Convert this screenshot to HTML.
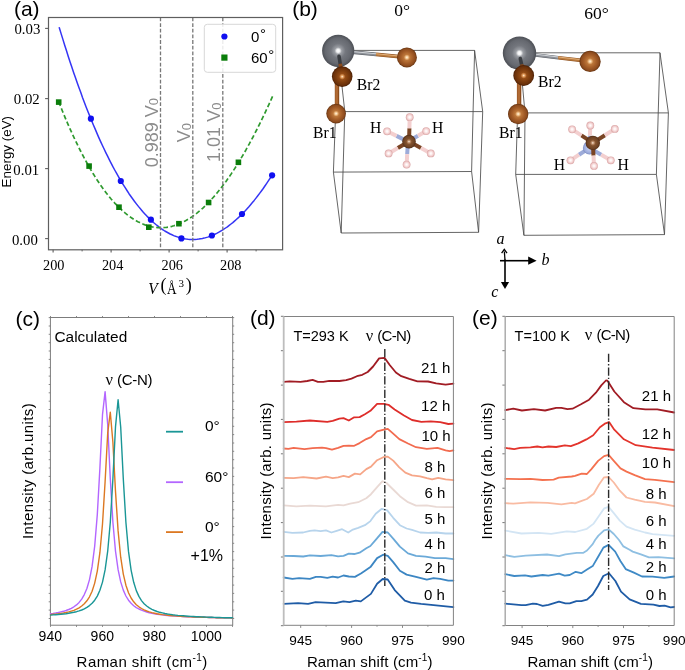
<!DOCTYPE html>
<html><head><meta charset="utf-8"><style>
html,body{margin:0;padding:0;background:#fff;}
svg{display:block;will-change:transform;}
</style></head><body>
<svg width="685" height="670" viewBox="0 0 685 670">
<rect width="685" height="670" fill="#fff"/>
<text x="13.9" y="16.1" font-size="21" font-family='"Liberation Sans", sans-serif' text-anchor="start" fill="#000" >(a)</text>
<path d="M59.3,27.7 L61.1,33.6 L62.9,39.4 L64.7,45.2 L66.5,50.8 L68.2,56.3 L70.0,61.8 L71.8,67.1 L73.6,72.4 L75.4,77.6 L77.2,82.7 L79.0,87.7 L80.8,92.6 L82.5,97.5 L84.3,102.2 L86.1,106.9 L87.9,111.5 L89.7,115.9 L91.5,120.4 L93.3,124.7 L95.1,128.9 L96.9,133.1 L98.6,137.1 L100.4,141.1 L102.2,145.0 L104.0,148.8 L105.8,152.6 L107.6,156.2 L109.4,159.8 L111.2,163.3 L112.9,166.7 L114.7,170.0 L116.5,173.2 L118.3,176.4 L120.1,179.5 L121.9,182.5 L123.7,185.4 L125.5,188.2 L127.3,191.0 L129.0,193.7 L130.8,196.3 L132.6,198.8 L134.4,201.2 L136.2,203.6 L138.0,205.9 L139.8,208.1 L141.6,210.2 L143.3,212.3 L145.1,214.2 L146.9,216.1 L148.7,217.9 L150.5,219.7 L152.3,221.4 L154.1,223.0 L155.9,224.5 L157.7,225.9 L159.4,227.3 L161.2,228.6 L163.0,229.8 L164.8,231.0 L166.6,232.0 L168.4,233.0 L170.2,234.0 L172.0,234.8 L173.7,235.6 L175.5,236.3 L177.3,236.9 L179.1,237.5 L180.9,238.0 L182.7,238.4 L184.5,238.8 L186.3,239.1 L188.1,239.3 L189.8,239.4 L191.6,239.5 L193.4,239.5 L195.2,239.4 L197.0,239.3 L198.8,239.1 L200.6,238.8 L202.4,238.5 L204.1,238.1 L205.9,237.6 L207.7,237.1 L209.5,236.5 L211.3,235.8 L213.1,235.0 L214.9,234.2 L216.7,233.4 L218.5,232.4 L220.2,231.4 L222.0,230.3 L223.8,229.2 L225.6,228.0 L227.4,226.8 L229.2,225.4 L231.0,224.0 L232.8,222.6 L234.5,221.1 L236.3,219.5 L238.1,217.9 L239.9,216.2 L241.7,214.4 L243.5,212.6 L245.3,210.7 L247.1,208.7 L248.9,206.7 L250.6,204.7 L252.4,202.5 L254.2,200.4 L256.0,198.1 L257.8,195.8 L259.6,193.4 L261.4,191.0 L263.2,188.5 L264.9,186.0 L266.7,183.4 L268.5,180.7 L270.3,178.0 L272.1,175.3" fill="none" stroke="#3535f5" stroke-width="1.5" stroke-linejoin="round" stroke-linecap="round" />
<path d="M58.7,101.7 L60.5,106.3 L62.3,110.7 L64.1,115.1 L65.9,119.4 L67.7,123.6 L69.5,127.7 L71.3,131.7 L73.1,135.6 L74.9,139.5 L76.7,143.2 L78.5,146.9 L80.3,150.5 L82.1,154.0 L83.9,157.4 L85.7,160.7 L87.5,164.0 L89.3,167.2 L91.1,170.2 L92.9,173.2 L94.7,176.1 L96.5,179.0 L98.3,181.7 L100.1,184.4 L101.9,187.0 L103.7,189.5 L105.5,191.9 L107.3,194.2 L109.1,196.5 L110.9,198.7 L112.7,200.8 L114.5,202.8 L116.3,204.7 L118.1,206.5 L119.9,208.3 L121.7,210.0 L123.5,211.6 L125.3,213.2 L127.1,214.6 L128.9,216.0 L130.7,217.3 L132.5,218.5 L134.3,219.7 L136.1,220.7 L137.9,221.7 L139.7,222.6 L141.5,223.5 L143.3,224.2 L145.1,224.9 L146.9,225.5 L148.7,226.1 L150.5,226.5 L152.3,226.9 L154.1,227.2 L155.9,227.4 L157.7,227.6 L159.5,227.7 L161.3,227.7 L163.1,227.6 L164.9,227.5 L166.6,227.3 L168.4,227.0 L170.2,226.7 L172.0,226.3 L173.8,225.8 L175.6,225.2 L177.4,224.6 L179.2,223.8 L181.0,223.1 L182.8,222.2 L184.6,221.3 L186.4,220.3 L188.2,219.2 L190.0,218.1 L191.8,216.9 L193.6,215.6 L195.4,214.3 L197.2,212.9 L199.0,211.4 L200.8,209.9 L202.6,208.3 L204.4,206.6 L206.2,204.9 L208.0,203.1 L209.8,201.2 L211.6,199.2 L213.4,197.2 L215.2,195.2 L217.0,193.0 L218.8,190.8 L220.6,188.6 L222.4,186.2 L224.2,183.8 L226.0,181.4 L227.8,178.8 L229.6,176.3 L231.4,173.6 L233.2,170.9 L235.0,168.1 L236.8,165.3 L238.6,162.4 L240.4,159.4 L242.2,156.4 L244.0,153.3 L245.8,150.2 L247.6,146.9 L249.4,143.7 L251.2,140.3 L253.0,137.0 L254.8,133.5 L256.6,130.0 L258.4,126.4 L260.2,122.8 L262.0,119.1 L263.8,115.4 L265.6,111.6 L267.4,107.7 L269.2,103.8 L271.0,99.8 L272.8,95.8" fill="none" stroke="#2f9a2f" stroke-width="1.7" stroke-linejoin="round" stroke-linecap="round" stroke-dasharray="4.6 2.6" style="stroke-linecap:butt"/>
<circle cx="90.9" cy="118.7" r="3.1" fill="#1010f0"/>
<circle cx="120.8" cy="181.0" r="3.1" fill="#1010f0"/>
<circle cx="150.9" cy="219.7" r="3.1" fill="#1010f0"/>
<circle cx="181.4" cy="238.4" r="3.1" fill="#1010f0"/>
<circle cx="211.9" cy="235.5" r="3.1" fill="#1010f0"/>
<circle cx="242.0" cy="214.0" r="3.1" fill="#1010f0"/>
<circle cx="272.1" cy="175.3" r="3.1" fill="#1010f0"/>
<rect x="55.9" y="99.3" width="5.6" height="5.6" fill="#0a7d0a"/>
<rect x="86.3" y="163.3" width="5.6" height="5.6" fill="#0a7d0a"/>
<rect x="116.2" y="204.4" width="5.6" height="5.6" fill="#0a7d0a"/>
<rect x="146.0" y="224.4" width="5.6" height="5.6" fill="#0a7d0a"/>
<rect x="176.1" y="220.9" width="5.6" height="5.6" fill="#0a7d0a"/>
<rect x="205.8" y="199.7" width="5.6" height="5.6" fill="#0a7d0a"/>
<rect x="235.6" y="159.5" width="5.6" height="5.6" fill="#0a7d0a"/>
<line x1="160.5" y1="17.5" x2="160.5" y2="249.5" stroke="#777" stroke-width="1.3" stroke-dasharray="3.8 1.85"/>
<line x1="192.8" y1="17.5" x2="192.8" y2="249.5" stroke="#777" stroke-width="1.3" stroke-dasharray="3.8 1.85"/>
<line x1="222.8" y1="17.5" x2="222.8" y2="249.5" stroke="#777" stroke-width="1.3" stroke-dasharray="3.8 1.85"/>
<text transform="translate(157.6,167.2) rotate(-90)" font-size="18" font-family='"Liberation Sans", sans-serif' fill="#8c8c8c">0.989 V<tspan font-size="13" dy="0.6">0</tspan></text>
<text transform="translate(190.0,142.2) rotate(-90)" font-size="18" font-family='"Liberation Sans", sans-serif' fill="#8c8c8c">V<tspan font-size="13" dy="0.6">0</tspan></text>
<text transform="translate(220.1,161.9) rotate(-90)" font-size="18" font-family='"Liberation Sans", sans-serif' fill="#8c8c8c">1.01 V<tspan font-size="13" dy="0.6">0</tspan></text>
<rect x="204.3" y="24.3" width="71.4" height="48" rx="3" fill="#fff" fill-opacity="0.85" stroke="#d8d8d8" stroke-width="1"/>
<circle cx="224.4" cy="36.5" r="3.1" fill="#1010f0"/>
<rect x="221.3" y="54.5" width="6.2" height="6.2" fill="#0a7d0a"/>
<text x="251.0" y="42.2" font-size="15" font-family='"Liberation Sans", sans-serif' text-anchor="start" fill="#000" >0<tspan dx="0.6" dy="-3">°</tspan></text>
<text x="251.0" y="63.4" font-size="15" font-family='"Liberation Sans", sans-serif' text-anchor="start" fill="#000" >60<tspan dx="0.6" dy="-3">°</tspan></text>
<rect x="48.5" y="17.5" width="234.1" height="232.3" fill="none" stroke="#5e5e5e" stroke-width="1.2"/>
<line x1="45.1" y1="28.4" x2="48.5" y2="28.4" stroke="#5e5e5e" stroke-width="1.1"/>
<text x="40.3" y="34.0" font-size="14.8" font-family='"Liberation Serif", serif' text-anchor="end" fill="#000" >0.03</text>
<line x1="45.1" y1="98.6" x2="48.5" y2="98.6" stroke="#5e5e5e" stroke-width="1.1"/>
<text x="39.7" y="104.0" font-size="14.8" font-family='"Liberation Serif", serif' text-anchor="end" fill="#000" >0.02</text>
<line x1="45.1" y1="168.6" x2="48.5" y2="168.6" stroke="#5e5e5e" stroke-width="1.1"/>
<text x="39.2" y="174.7" font-size="14.8" font-family='"Liberation Serif", serif' text-anchor="end" fill="#000" >0.01</text>
<line x1="45.1" y1="238.6" x2="48.5" y2="238.6" stroke="#5e5e5e" stroke-width="1.1"/>
<text x="37.8" y="244.5" font-size="14.8" font-family='"Liberation Serif", serif' text-anchor="end" fill="#000" >0.00</text>
<line x1="53.1" y1="249.8" x2="53.1" y2="252.4" stroke="#5e5e5e" stroke-width="1.1"/>
<line x1="82.1" y1="249.8" x2="82.1" y2="251.4" stroke="#5e5e5e" stroke-width="1"/>
<text x="53.8" y="270.4" font-size="14.3" font-family='"Liberation Serif", serif' text-anchor="middle" fill="#000" >200</text>
<line x1="111.1" y1="249.8" x2="111.1" y2="252.4" stroke="#5e5e5e" stroke-width="1.1"/>
<line x1="140.1" y1="249.8" x2="140.1" y2="251.4" stroke="#5e5e5e" stroke-width="1"/>
<text x="112.7" y="270.4" font-size="14.3" font-family='"Liberation Serif", serif' text-anchor="middle" fill="#000" >204</text>
<line x1="169.1" y1="249.8" x2="169.1" y2="252.4" stroke="#5e5e5e" stroke-width="1.1"/>
<line x1="198.1" y1="249.8" x2="198.1" y2="251.4" stroke="#5e5e5e" stroke-width="1"/>
<text x="172.3" y="270.4" font-size="14.3" font-family='"Liberation Serif", serif' text-anchor="middle" fill="#000" >206</text>
<line x1="227.1" y1="249.8" x2="227.1" y2="252.4" stroke="#5e5e5e" stroke-width="1.1"/>
<line x1="256.1" y1="249.8" x2="256.1" y2="251.4" stroke="#5e5e5e" stroke-width="1"/>
<text x="230.8" y="270.4" font-size="14.3" font-family='"Liberation Serif", serif' text-anchor="middle" fill="#000" >208</text>
<text x="148.3" y="294.3" font-size="17.2" font-family='"Liberation Serif", serif' font-style="italic" transform="translate(148.3,0) scale(0.9,1) translate(-148.3,0)">V</text>
<text x="160.4" y="291.4" font-size="18" font-family='"Liberation Serif", serif'>(</text>
<text x="167.0" y="293.9" font-size="17" font-family='"Liberation Serif", serif' transform="translate(167,0) scale(0.78,1) translate(-167,0)">Å</text>
<text x="178.6" y="287.4" font-size="11" font-family='"Liberation Serif", serif'>3</text>
<text x="185.8" y="291.4" font-size="18" font-family='"Liberation Serif", serif'>)</text>
<text transform="translate(11.2,187.4) rotate(-90)" font-size="13.4" font-family='"Liberation Sans", sans-serif'>Energy (eV)</text>
<defs><radialGradient id="gPb" cx="0.5" cy="0.5" r="0.5" fx="0.5" fy="0.5"><stop offset="0" stop-color="#ffffff"/><stop offset="0.1" stop-color="#f2f3f4"/><stop offset="0.22" stop-color="#9a9da3"/><stop offset="0.45" stop-color="#74777e"/><stop offset="0.8" stop-color="#65686f"/><stop offset="1" stop-color="#4c4f55"/></radialGradient><radialGradient id="gBr" cx="0.5" cy="0.5" r="0.5" fx="0.5" fy="0.5"><stop offset="0" stop-color="#fff6e6"/><stop offset="0.12" stop-color="#f6cc98"/><stop offset="0.3" stop-color="#bd773a"/><stop offset="0.6" stop-color="#a45d28"/><stop offset="0.85" stop-color="#8e4c1e"/><stop offset="1" stop-color="#64320f"/></radialGradient><radialGradient id="gBr2" cx="0.5" cy="0.5" r="0.5" fx="0.5" fy="0.5"><stop offset="0" stop-color="#ffeed8"/><stop offset="0.12" stop-color="#e6a060"/><stop offset="0.3" stop-color="#944c16"/><stop offset="0.6" stop-color="#7c3c0e"/><stop offset="0.85" stop-color="#69300a"/><stop offset="1" stop-color="#481e04"/></radialGradient><radialGradient id="gC" cx="0.5" cy="0.5" r="0.5" fx="0.5" fy="0.5"><stop offset="0" stop-color="#fff4e8"/><stop offset="0.15" stop-color="#c89a78"/><stop offset="0.4" stop-color="#84532f"/><stop offset="0.8" stop-color="#6e4224"/><stop offset="1" stop-color="#4e2c16"/></radialGradient><radialGradient id="gH" cx="0.5" cy="0.5" r="0.5" fx="0.5" fy="0.5"><stop offset="0" stop-color="#ffffff"/><stop offset="0.3" stop-color="#fdf0f0"/><stop offset="0.7" stop-color="#f1cccc"/><stop offset="1" stop-color="#d9a4a4"/></radialGradient><radialGradient id="gN" cx="0.5" cy="0.5" r="0.5" fx="0.5" fy="0.5"><stop offset="0" stop-color="#eef2ff"/><stop offset="0.3" stop-color="#bcc7ee"/><stop offset="0.8" stop-color="#9aa9da"/><stop offset="1" stop-color="#7d8cc0"/></radialGradient></defs>
<line x1="338.0" y1="50.4" x2="474.6" y2="50.4" stroke="#4a4a4a" stroke-width="0.85" />
<line x1="474.6" y1="50.4" x2="482.7" y2="111.6" stroke="#4a4a4a" stroke-width="0.85" />
<line x1="482.7" y1="111.6" x2="344.8" y2="111.6" stroke="#4a4a4a" stroke-width="0.85" />
<line x1="344.8" y1="111.6" x2="338.0" y2="50.4" stroke="#4a4a4a" stroke-width="0.85" />
<line x1="333.4" y1="172.1" x2="471.6" y2="171.5" stroke="#4a4a4a" stroke-width="0.85" />
<line x1="471.6" y1="171.5" x2="478.6" y2="232.3" stroke="#4a4a4a" stroke-width="0.85" />
<line x1="478.6" y1="232.3" x2="341.2" y2="233.0" stroke="#4a4a4a" stroke-width="0.85" />
<line x1="341.2" y1="233.0" x2="333.4" y2="172.1" stroke="#4a4a4a" stroke-width="0.85" />
<line x1="338.0" y1="50.4" x2="333.4" y2="172.1" stroke="#4a4a4a" stroke-width="0.85" />
<line x1="474.6" y1="50.4" x2="471.6" y2="171.5" stroke="#4a4a4a" stroke-width="0.85" />
<line x1="482.7" y1="111.6" x2="478.6" y2="232.3" stroke="#4a4a4a" stroke-width="0.85" />
<line x1="344.8" y1="111.6" x2="341.2" y2="233.0" stroke="#4a4a4a" stroke-width="0.85" />
<line x1="351.9" y1="52.1" x2="376.0" y2="54.4" stroke="#5e6268" stroke-width="3.6" />
<line x1="351.9" y1="52.1" x2="376.0" y2="54.4" stroke="#8d9198" stroke-width="2.52" />
<line x1="352.0" y1="51.5" x2="376.0" y2="53.8" stroke="#d2d5d9" stroke-width="1.0080000000000002" />
<line x1="376.0" y1="54.4" x2="406.9" y2="57.4" stroke="#8a4e1e" stroke-width="3.6" />
<line x1="376.0" y1="54.4" x2="406.9" y2="57.4" stroke="#b97a3e" stroke-width="2.52" />
<line x1="376.0" y1="53.8" x2="407.0" y2="56.8" stroke="#e2b07a" stroke-width="1.0080000000000002" />
<circle cx="406.9" cy="57.4" r="10.0" fill="url(#gBr)"/>
<circle cx="338.2" cy="50.8" r="16.1" fill="url(#gPb)"/>
<line x1="337.0" y1="76.6" x2="337.0" y2="113.6" stroke="#8c4c1c" stroke-width="4.4" />
<line x1="336.6" y1="76.6" x2="336.6" y2="113.6" stroke="#b06a34" stroke-width="2.6" />
<line x1="339.0" y1="56.3" x2="340.2" y2="63.7" stroke="#3a3d42" stroke-width="3.6" stroke-linecap="round"/>
<line x1="340.2" y1="63.7" x2="342.2" y2="76.6" stroke="#8a4a1c" stroke-width="3.6" />
<circle cx="336.1" cy="113.6" r="9.8" fill="url(#gBr)"/>
<circle cx="342.2" cy="76.6" r="10.3" fill="url(#gBr2)"/>
<line x1="408.0" y1="141.6" x2="396.5" y2="135.9" stroke="#9dabd9" stroke-width="4.0" stroke-linecap="butt"/>
<line x1="396.5" y1="135.9" x2="387.1" y2="131.3" stroke="#f3cfcf" stroke-width="4.0" stroke-linecap="butt"/>
<line x1="408.0" y1="141.6" x2="418.0" y2="135.8" stroke="#9dabd9" stroke-width="4.0" stroke-linecap="butt"/>
<line x1="418.0" y1="135.8" x2="426.2" y2="131.1" stroke="#f3cfcf" stroke-width="4.0" stroke-linecap="butt"/>
<line x1="408.0" y1="141.6" x2="407.2" y2="154.2" stroke="#9dabd9" stroke-width="4.0" stroke-linecap="butt"/>
<line x1="407.2" y1="154.2" x2="406.6" y2="164.6" stroke="#f3cfcf" stroke-width="4.0" stroke-linecap="butt"/>
<line x1="409.0" y1="141.6" x2="409.4" y2="128.2" stroke="#7a4424" stroke-width="4.0" stroke-linecap="butt"/>
<line x1="409.4" y1="128.2" x2="409.7" y2="117.2" stroke="#f3cfcf" stroke-width="4.0" stroke-linecap="butt"/>
<line x1="409.0" y1="141.6" x2="397.8" y2="148.1" stroke="#7a4424" stroke-width="4.0" stroke-linecap="butt"/>
<line x1="397.8" y1="148.1" x2="388.6" y2="153.4" stroke="#f3cfcf" stroke-width="4.0" stroke-linecap="butt"/>
<line x1="409.0" y1="141.6" x2="421.0" y2="148.1" stroke="#7a4424" stroke-width="4.0" stroke-linecap="butt"/>
<line x1="421.0" y1="148.1" x2="430.8" y2="153.4" stroke="#f3cfcf" stroke-width="4.0" stroke-linecap="butt"/>
<circle cx="409.7" cy="117.2" r="3.9" fill="url(#gH)"/>
<circle cx="387.1" cy="131.3" r="3.9" fill="url(#gH)"/>
<circle cx="426.2" cy="131.1" r="3.9" fill="url(#gH)"/>
<circle cx="388.6" cy="153.4" r="3.9" fill="url(#gH)"/>
<circle cx="430.8" cy="153.4" r="3.9" fill="url(#gH)"/>
<circle cx="406.6" cy="164.6" r="3.9" fill="url(#gH)"/>
<circle cx="409.0" cy="141.6" r="6.8" fill="url(#gC)"/>
<line x1="519.5" y1="52.8" x2="660.0" y2="52.8" stroke="#4a4a4a" stroke-width="0.85" />
<line x1="660.0" y1="52.8" x2="668.4" y2="112.9" stroke="#4a4a4a" stroke-width="0.85" />
<line x1="668.4" y1="112.9" x2="525.0" y2="112.9" stroke="#4a4a4a" stroke-width="0.85" />
<line x1="525.0" y1="112.9" x2="519.5" y2="52.8" stroke="#4a4a4a" stroke-width="0.85" />
<line x1="515.7" y1="174.4" x2="656.4" y2="174.4" stroke="#4a4a4a" stroke-width="0.85" />
<line x1="656.4" y1="174.4" x2="664.5" y2="234.6" stroke="#4a4a4a" stroke-width="0.85" />
<line x1="664.5" y1="234.6" x2="523.9" y2="235.3" stroke="#4a4a4a" stroke-width="0.85" />
<line x1="523.9" y1="235.3" x2="515.7" y2="174.4" stroke="#4a4a4a" stroke-width="0.85" />
<line x1="519.5" y1="52.8" x2="515.7" y2="174.4" stroke="#4a4a4a" stroke-width="0.85" />
<line x1="660.0" y1="52.8" x2="656.4" y2="174.4" stroke="#4a4a4a" stroke-width="0.85" />
<line x1="668.4" y1="112.9" x2="664.5" y2="234.6" stroke="#4a4a4a" stroke-width="0.85" />
<line x1="525.0" y1="112.9" x2="523.9" y2="235.3" stroke="#4a4a4a" stroke-width="0.85" />
<line x1="533.6" y1="54.8" x2="558.3" y2="57.7" stroke="#5e6268" stroke-width="3.6" />
<line x1="533.6" y1="54.8" x2="558.3" y2="57.7" stroke="#8d9198" stroke-width="2.52" />
<line x1="533.7" y1="54.1" x2="558.4" y2="57.0" stroke="#d2d5d9" stroke-width="1.0080000000000002" />
<line x1="558.3" y1="57.7" x2="590.1" y2="61.4" stroke="#8a4e1e" stroke-width="3.6" />
<line x1="558.3" y1="57.7" x2="590.1" y2="61.4" stroke="#b97a3e" stroke-width="2.52" />
<line x1="558.4" y1="57.0" x2="590.2" y2="60.8" stroke="#e2b07a" stroke-width="1.0080000000000002" />
<circle cx="590.1" cy="61.4" r="10.6" fill="url(#gBr)"/>
<circle cx="519.5" cy="53.1" r="16.7" fill="url(#gPb)"/>
<line x1="519.1" y1="75.5" x2="519.1" y2="114.0" stroke="#8c4c1c" stroke-width="4.4" />
<line x1="518.7" y1="75.5" x2="518.7" y2="114.0" stroke="#b06a34" stroke-width="2.6" />
<line x1="520.3" y1="58.6" x2="521.6" y2="64.3" stroke="#3a3d42" stroke-width="3.6" stroke-linecap="round"/>
<line x1="521.6" y1="64.3" x2="523.7" y2="75.5" stroke="#8a4a1c" stroke-width="3.6" />
<circle cx="518.2" cy="114.0" r="10.2" fill="url(#gBr)"/>
<circle cx="523.7" cy="75.5" r="10.4" fill="url(#gBr2)"/>
<line x1="589.5" y1="147.9" x2="589.9" y2="135.6" stroke="#9dabd9" stroke-width="4.0" stroke-linecap="butt"/>
<line x1="589.9" y1="135.6" x2="590.3" y2="125.5" stroke="#f3cfcf" stroke-width="4.0" stroke-linecap="butt"/>
<line x1="589.5" y1="147.9" x2="579.0" y2="154.7" stroke="#9dabd9" stroke-width="4.0" stroke-linecap="butt"/>
<line x1="579.0" y1="154.7" x2="570.5" y2="160.3" stroke="#f3cfcf" stroke-width="4.0" stroke-linecap="butt"/>
<line x1="589.5" y1="147.9" x2="601.2" y2="154.7" stroke="#9dabd9" stroke-width="4.0" stroke-linecap="butt"/>
<line x1="601.2" y1="154.7" x2="610.8" y2="160.3" stroke="#f3cfcf" stroke-width="4.0" stroke-linecap="butt"/>
<circle cx="589.5" cy="147.9" r="6.6" fill="url(#gN)"/>
<line x1="592.8" y1="142.9" x2="581.4" y2="135.4" stroke="#7a4424" stroke-width="4.0" stroke-linecap="butt"/>
<line x1="581.4" y1="135.4" x2="572.1" y2="129.3" stroke="#f3cfcf" stroke-width="4.0" stroke-linecap="butt"/>
<line x1="592.8" y1="142.9" x2="604.9" y2="135.2" stroke="#7a4424" stroke-width="4.0" stroke-linecap="butt"/>
<line x1="604.9" y1="135.2" x2="614.8" y2="128.9" stroke="#f3cfcf" stroke-width="4.0" stroke-linecap="butt"/>
<line x1="592.8" y1="142.9" x2="593.5" y2="155.6" stroke="#7a4424" stroke-width="4.0" stroke-linecap="butt"/>
<line x1="593.5" y1="155.6" x2="594.0" y2="165.9" stroke="#f3cfcf" stroke-width="4.0" stroke-linecap="butt"/>
<circle cx="572.1" cy="129.3" r="3.9" fill="url(#gH)"/>
<circle cx="590.3" cy="125.5" r="3.9" fill="url(#gH)"/>
<circle cx="614.8" cy="128.9" r="3.9" fill="url(#gH)"/>
<circle cx="570.5" cy="160.3" r="3.9" fill="url(#gH)"/>
<circle cx="594.0" cy="165.9" r="3.9" fill="url(#gH)"/>
<circle cx="610.8" cy="160.3" r="3.9" fill="url(#gH)"/>
<circle cx="592.8" cy="142.9" r="7.2" fill="url(#gC)"/>
<text x="356.8" y="89.8" font-size="15.7" font-family='"Liberation Serif", serif' >Br2</text>
<text x="313.0" y="137.7" font-size="15.7" font-family='"Liberation Serif", serif' >Br1</text>
<text x="370.0" y="133.0" font-size="15.7" font-family='"Liberation Serif", serif' >H</text>
<text x="432.0" y="133.0" font-size="15.7" font-family='"Liberation Serif", serif' >H</text>
<text x="538.1" y="87.1" font-size="15.7" font-family='"Liberation Serif", serif' >Br2</text>
<text x="499.0" y="138.4" font-size="15.7" font-family='"Liberation Serif", serif' >Br1</text>
<text x="553.7" y="170.2" font-size="15.7" font-family='"Liberation Serif", serif' >H</text>
<text x="617.6" y="170.2" font-size="15.7" font-family='"Liberation Serif", serif' >H</text>
<text x="394.3" y="16.1" font-size="17.5" font-family='"Liberation Serif", serif' >0°</text>
<text x="584.3" y="19.0" font-size="17.5" font-family='"Liberation Serif", serif' >60°</text>
<text x="292.2" y="15.8" font-size="21" font-family='"Liberation Sans", sans-serif'>(b)</text>
<line x1="500.0" y1="260.7" x2="529.0" y2="260.7" stroke="#000" stroke-width="1.6" />
<path d="M528.2,256.6 L536.6,260.7 L528.2,264.8 Z" fill="#000"/>
<line x1="505.0" y1="259.5" x2="505.0" y2="283.0" stroke="#000" stroke-width="1.6" />
<path d="M500.9,282 L505,289 L509.1,282 Z" fill="#000"/>
<line x1="505.0" y1="260.7" x2="504.4" y2="251.5" stroke="#000" stroke-width="1.3" />
<path d="M501.6,253.2 L504.3,249.4 L507.0,253.2" fill="none" stroke="#000" stroke-width="1.3"/>
<text x="496.5" y="244.4" font-size="16" font-family='"Liberation Serif", serif' font-style="italic">a</text>
<text x="541.5" y="264.7" font-size="16" font-family='"Liberation Serif", serif' font-style="italic">b</text>
<text x="491.3" y="296.6" font-size="16" font-family='"Liberation Serif", serif' font-style="italic">c</text>
<rect x="50.4" y="317.5" width="182.3" height="307.7" fill="none" stroke="#7c7c7c" stroke-width="1"/>
<line x1="48.699999999999996" y1="317.6" x2="50.4" y2="317.6" stroke="#7c7c7c" stroke-width="0.9"/>
<line x1="232.7" y1="317.6" x2="234.2" y2="317.6" stroke="#7c7c7c" stroke-width="0.9"/>
<line x1="48.699999999999996" y1="326.0" x2="50.4" y2="326.0" stroke="#7c7c7c" stroke-width="0.9"/>
<line x1="232.7" y1="326.0" x2="234.2" y2="326.0" stroke="#7c7c7c" stroke-width="0.9"/>
<line x1="48.699999999999996" y1="334.3" x2="50.4" y2="334.3" stroke="#7c7c7c" stroke-width="0.9"/>
<line x1="232.7" y1="334.3" x2="234.2" y2="334.3" stroke="#7c7c7c" stroke-width="0.9"/>
<line x1="48.699999999999996" y1="342.7" x2="50.4" y2="342.7" stroke="#7c7c7c" stroke-width="0.9"/>
<line x1="232.7" y1="342.7" x2="234.2" y2="342.7" stroke="#7c7c7c" stroke-width="0.9"/>
<line x1="48.699999999999996" y1="351.0" x2="50.4" y2="351.0" stroke="#7c7c7c" stroke-width="0.9"/>
<line x1="232.7" y1="351.0" x2="234.2" y2="351.0" stroke="#7c7c7c" stroke-width="0.9"/>
<line x1="48.699999999999996" y1="359.4" x2="50.4" y2="359.4" stroke="#7c7c7c" stroke-width="0.9"/>
<line x1="232.7" y1="359.4" x2="234.2" y2="359.4" stroke="#7c7c7c" stroke-width="0.9"/>
<line x1="48.699999999999996" y1="367.7" x2="50.4" y2="367.7" stroke="#7c7c7c" stroke-width="0.9"/>
<line x1="232.7" y1="367.7" x2="234.2" y2="367.7" stroke="#7c7c7c" stroke-width="0.9"/>
<line x1="48.699999999999996" y1="376.1" x2="50.4" y2="376.1" stroke="#7c7c7c" stroke-width="0.9"/>
<line x1="232.7" y1="376.1" x2="234.2" y2="376.1" stroke="#7c7c7c" stroke-width="0.9"/>
<line x1="48.699999999999996" y1="384.5" x2="50.4" y2="384.5" stroke="#7c7c7c" stroke-width="0.9"/>
<line x1="232.7" y1="384.5" x2="234.2" y2="384.5" stroke="#7c7c7c" stroke-width="0.9"/>
<line x1="48.699999999999996" y1="392.8" x2="50.4" y2="392.8" stroke="#7c7c7c" stroke-width="0.9"/>
<line x1="232.7" y1="392.8" x2="234.2" y2="392.8" stroke="#7c7c7c" stroke-width="0.9"/>
<line x1="48.699999999999996" y1="401.2" x2="50.4" y2="401.2" stroke="#7c7c7c" stroke-width="0.9"/>
<line x1="232.7" y1="401.2" x2="234.2" y2="401.2" stroke="#7c7c7c" stroke-width="0.9"/>
<line x1="48.699999999999996" y1="409.5" x2="50.4" y2="409.5" stroke="#7c7c7c" stroke-width="0.9"/>
<line x1="232.7" y1="409.5" x2="234.2" y2="409.5" stroke="#7c7c7c" stroke-width="0.9"/>
<line x1="48.699999999999996" y1="417.9" x2="50.4" y2="417.9" stroke="#7c7c7c" stroke-width="0.9"/>
<line x1="232.7" y1="417.9" x2="234.2" y2="417.9" stroke="#7c7c7c" stroke-width="0.9"/>
<line x1="48.699999999999996" y1="426.3" x2="50.4" y2="426.3" stroke="#7c7c7c" stroke-width="0.9"/>
<line x1="232.7" y1="426.3" x2="234.2" y2="426.3" stroke="#7c7c7c" stroke-width="0.9"/>
<line x1="48.699999999999996" y1="434.6" x2="50.4" y2="434.6" stroke="#7c7c7c" stroke-width="0.9"/>
<line x1="232.7" y1="434.6" x2="234.2" y2="434.6" stroke="#7c7c7c" stroke-width="0.9"/>
<line x1="48.699999999999996" y1="443.0" x2="50.4" y2="443.0" stroke="#7c7c7c" stroke-width="0.9"/>
<line x1="232.7" y1="443.0" x2="234.2" y2="443.0" stroke="#7c7c7c" stroke-width="0.9"/>
<line x1="48.699999999999996" y1="451.3" x2="50.4" y2="451.3" stroke="#7c7c7c" stroke-width="0.9"/>
<line x1="232.7" y1="451.3" x2="234.2" y2="451.3" stroke="#7c7c7c" stroke-width="0.9"/>
<line x1="48.699999999999996" y1="459.7" x2="50.4" y2="459.7" stroke="#7c7c7c" stroke-width="0.9"/>
<line x1="232.7" y1="459.7" x2="234.2" y2="459.7" stroke="#7c7c7c" stroke-width="0.9"/>
<line x1="48.699999999999996" y1="468.0" x2="50.4" y2="468.0" stroke="#7c7c7c" stroke-width="0.9"/>
<line x1="232.7" y1="468.0" x2="234.2" y2="468.0" stroke="#7c7c7c" stroke-width="0.9"/>
<line x1="48.699999999999996" y1="476.4" x2="50.4" y2="476.4" stroke="#7c7c7c" stroke-width="0.9"/>
<line x1="232.7" y1="476.4" x2="234.2" y2="476.4" stroke="#7c7c7c" stroke-width="0.9"/>
<line x1="48.699999999999996" y1="484.8" x2="50.4" y2="484.8" stroke="#7c7c7c" stroke-width="0.9"/>
<line x1="232.7" y1="484.8" x2="234.2" y2="484.8" stroke="#7c7c7c" stroke-width="0.9"/>
<line x1="48.699999999999996" y1="493.1" x2="50.4" y2="493.1" stroke="#7c7c7c" stroke-width="0.9"/>
<line x1="232.7" y1="493.1" x2="234.2" y2="493.1" stroke="#7c7c7c" stroke-width="0.9"/>
<line x1="48.699999999999996" y1="501.5" x2="50.4" y2="501.5" stroke="#7c7c7c" stroke-width="0.9"/>
<line x1="232.7" y1="501.5" x2="234.2" y2="501.5" stroke="#7c7c7c" stroke-width="0.9"/>
<line x1="48.699999999999996" y1="509.8" x2="50.4" y2="509.8" stroke="#7c7c7c" stroke-width="0.9"/>
<line x1="232.7" y1="509.8" x2="234.2" y2="509.8" stroke="#7c7c7c" stroke-width="0.9"/>
<line x1="48.699999999999996" y1="518.2" x2="50.4" y2="518.2" stroke="#7c7c7c" stroke-width="0.9"/>
<line x1="232.7" y1="518.2" x2="234.2" y2="518.2" stroke="#7c7c7c" stroke-width="0.9"/>
<line x1="48.699999999999996" y1="526.6" x2="50.4" y2="526.6" stroke="#7c7c7c" stroke-width="0.9"/>
<line x1="232.7" y1="526.6" x2="234.2" y2="526.6" stroke="#7c7c7c" stroke-width="0.9"/>
<line x1="48.699999999999996" y1="534.9" x2="50.4" y2="534.9" stroke="#7c7c7c" stroke-width="0.9"/>
<line x1="232.7" y1="534.9" x2="234.2" y2="534.9" stroke="#7c7c7c" stroke-width="0.9"/>
<line x1="48.699999999999996" y1="543.3" x2="50.4" y2="543.3" stroke="#7c7c7c" stroke-width="0.9"/>
<line x1="232.7" y1="543.3" x2="234.2" y2="543.3" stroke="#7c7c7c" stroke-width="0.9"/>
<line x1="48.699999999999996" y1="551.6" x2="50.4" y2="551.6" stroke="#7c7c7c" stroke-width="0.9"/>
<line x1="232.7" y1="551.6" x2="234.2" y2="551.6" stroke="#7c7c7c" stroke-width="0.9"/>
<line x1="48.699999999999996" y1="560.0" x2="50.4" y2="560.0" stroke="#7c7c7c" stroke-width="0.9"/>
<line x1="232.7" y1="560.0" x2="234.2" y2="560.0" stroke="#7c7c7c" stroke-width="0.9"/>
<line x1="48.699999999999996" y1="568.3" x2="50.4" y2="568.3" stroke="#7c7c7c" stroke-width="0.9"/>
<line x1="232.7" y1="568.3" x2="234.2" y2="568.3" stroke="#7c7c7c" stroke-width="0.9"/>
<line x1="48.699999999999996" y1="576.7" x2="50.4" y2="576.7" stroke="#7c7c7c" stroke-width="0.9"/>
<line x1="232.7" y1="576.7" x2="234.2" y2="576.7" stroke="#7c7c7c" stroke-width="0.9"/>
<line x1="48.699999999999996" y1="585.1" x2="50.4" y2="585.1" stroke="#7c7c7c" stroke-width="0.9"/>
<line x1="232.7" y1="585.1" x2="234.2" y2="585.1" stroke="#7c7c7c" stroke-width="0.9"/>
<line x1="48.699999999999996" y1="593.4" x2="50.4" y2="593.4" stroke="#7c7c7c" stroke-width="0.9"/>
<line x1="232.7" y1="593.4" x2="234.2" y2="593.4" stroke="#7c7c7c" stroke-width="0.9"/>
<line x1="48.699999999999996" y1="601.8" x2="50.4" y2="601.8" stroke="#7c7c7c" stroke-width="0.9"/>
<line x1="232.7" y1="601.8" x2="234.2" y2="601.8" stroke="#7c7c7c" stroke-width="0.9"/>
<line x1="48.699999999999996" y1="610.1" x2="50.4" y2="610.1" stroke="#7c7c7c" stroke-width="0.9"/>
<line x1="232.7" y1="610.1" x2="234.2" y2="610.1" stroke="#7c7c7c" stroke-width="0.9"/>
<line x1="48.699999999999996" y1="618.5" x2="50.4" y2="618.5" stroke="#7c7c7c" stroke-width="0.9"/>
<line x1="232.7" y1="618.5" x2="234.2" y2="618.5" stroke="#7c7c7c" stroke-width="0.9"/>
<line x1="50.5" y1="625.2" x2="50.5" y2="626.9000000000001" stroke="#7c7c7c" stroke-width="0.9"/>
<line x1="50.5" y1="317.5" x2="50.5" y2="316.0" stroke="#7c7c7c" stroke-width="0.9"/>
<line x1="76.5" y1="625.2" x2="76.5" y2="626.9000000000001" stroke="#7c7c7c" stroke-width="0.9"/>
<line x1="76.5" y1="317.5" x2="76.5" y2="316.0" stroke="#7c7c7c" stroke-width="0.9"/>
<line x1="102.5" y1="625.2" x2="102.5" y2="626.9000000000001" stroke="#7c7c7c" stroke-width="0.9"/>
<line x1="102.5" y1="317.5" x2="102.5" y2="316.0" stroke="#7c7c7c" stroke-width="0.9"/>
<line x1="128.5" y1="625.2" x2="128.5" y2="626.9000000000001" stroke="#7c7c7c" stroke-width="0.9"/>
<line x1="128.5" y1="317.5" x2="128.5" y2="316.0" stroke="#7c7c7c" stroke-width="0.9"/>
<line x1="154.5" y1="625.2" x2="154.5" y2="626.9000000000001" stroke="#7c7c7c" stroke-width="0.9"/>
<line x1="154.5" y1="317.5" x2="154.5" y2="316.0" stroke="#7c7c7c" stroke-width="0.9"/>
<line x1="180.5" y1="625.2" x2="180.5" y2="626.9000000000001" stroke="#7c7c7c" stroke-width="0.9"/>
<line x1="180.5" y1="317.5" x2="180.5" y2="316.0" stroke="#7c7c7c" stroke-width="0.9"/>
<line x1="206.5" y1="625.2" x2="206.5" y2="626.9000000000001" stroke="#7c7c7c" stroke-width="0.9"/>
<line x1="206.5" y1="317.5" x2="206.5" y2="316.0" stroke="#7c7c7c" stroke-width="0.9"/>
<line x1="232.5" y1="625.2" x2="232.5" y2="626.9000000000001" stroke="#7c7c7c" stroke-width="0.9"/>
<line x1="232.5" y1="317.5" x2="232.5" y2="316.0" stroke="#7c7c7c" stroke-width="0.9"/>
<path d="M50.5,613.7 L53.1,613.4 L55.7,613.0 L58.3,612.5 L60.9,611.9 L63.5,611.3 L66.1,610.5 L68.7,609.5 L71.3,608.3 L73.9,606.8 L76.5,604.9 L79.1,602.4 L81.7,599.1 L84.3,594.6 L86.9,588.5 L89.5,579.6 L92.1,566.4 L94.7,546.1 L97.3,514.6 L99.9,468.1 L102.5,414.7 L105.1,391.6 L107.7,424.6 L110.3,478.7 L112.9,522.2 L115.5,551.1 L118.1,569.7 L120.7,581.9 L123.3,590.1 L125.9,596.0 L128.5,600.2 L131.1,603.3 L133.7,605.7 L136.3,607.6 L138.9,609.0 L141.5,610.2 L144.1,611.2 L146.7,612.0 L149.3,612.7 L151.9,613.3 L154.5,613.8 L157.1,614.2 L159.7,614.6 L162.3,614.9 L164.9,615.2 L167.5,615.5 L170.1,615.7 L172.7,615.9 L175.3,616.1 L177.9,616.2 L180.5,616.4 L183.1,616.5 L185.7,616.7 L188.3,616.8 L190.9,616.9 L193.5,617.0 L196.1,617.1 L198.7,617.2 L201.3,617.3 L203.9,617.3 L206.5,617.4 L209.1,617.5 L211.7,617.5 L214.3,617.6 L216.9,617.7 L219.5,617.7 L222.1,617.8 L224.7,617.8 L227.3,617.9 L229.9,617.9 L232.5,618.0" fill="none" stroke="#b366ff" stroke-width="1.4" stroke-linejoin="round" stroke-linecap="round" />
<path d="M50.5,614.6 L53.1,614.3 L55.7,614.1 L58.3,613.8 L60.9,613.4 L63.5,613.0 L66.1,612.5 L68.7,611.9 L71.3,611.1 L73.9,610.3 L76.5,609.2 L79.1,607.8 L81.7,606.0 L84.3,603.8 L86.9,600.8 L89.5,596.8 L92.1,591.2 L94.7,583.1 L97.3,571.1 L99.9,552.7 L102.5,524.0 L105.1,481.8 L107.7,433.2 L110.3,412.2 L112.9,442.2 L115.5,491.4 L118.1,530.9 L120.7,557.2 L123.3,574.1 L125.9,585.2 L128.5,592.7 L131.1,598.0 L133.7,601.8 L136.3,604.7 L138.9,606.8 L141.5,608.5 L144.1,609.9 L146.7,611.0 L149.3,611.9 L151.9,612.6 L154.5,613.2 L157.1,613.8 L159.7,614.2 L162.3,614.6 L164.9,614.9 L167.5,615.2 L170.1,615.5 L172.7,615.7 L175.3,615.9 L177.9,616.1 L180.5,616.3 L183.1,616.5 L185.7,616.6 L188.3,616.7 L190.9,616.8 L193.5,617.0 L196.1,617.1 L198.7,617.1 L201.3,617.2 L203.9,617.3 L206.5,617.4 L209.1,617.5 L211.7,617.5 L214.3,617.6 L216.9,617.7 L219.5,617.7 L222.1,617.8 L224.7,617.8 L227.3,617.9 L229.9,617.9 L232.5,618.0" fill="none" stroke="#dc7822" stroke-width="1.4" stroke-linejoin="round" stroke-linecap="round" />
<path d="M50.5,615.1 L53.1,614.9 L55.7,614.7 L58.3,614.5 L60.9,614.3 L63.5,614.0 L66.1,613.7 L68.7,613.3 L71.3,612.8 L73.9,612.3 L76.5,611.7 L79.1,610.9 L81.7,610.0 L84.3,608.8 L86.9,607.4 L89.5,605.6 L92.1,603.3 L94.7,600.2 L97.3,596.1 L99.9,590.3 L102.5,582.1 L105.1,569.9 L107.7,551.2 L110.3,522.2 L112.9,478.9 L115.5,426.9 L118.1,399.8 L120.7,427.0 L123.3,478.9 L125.9,522.3 L128.5,551.4 L131.1,570.1 L133.7,582.3 L136.3,590.6 L138.9,596.4 L141.5,600.6 L144.1,603.7 L146.7,606.0 L149.3,607.9 L151.9,609.3 L154.5,610.5 L157.1,611.5 L159.7,612.3 L162.3,612.9 L164.9,613.5 L167.5,614.0 L170.1,614.4 L172.7,614.8 L175.3,615.1 L177.9,615.4 L180.5,615.6 L183.1,615.8 L185.7,616.0 L188.3,616.2 L190.9,616.4 L193.5,616.5 L196.1,616.7 L198.7,616.8 L201.3,616.9 L203.9,617.0 L206.5,617.1 L209.1,617.2 L211.7,617.3 L214.3,617.4 L216.9,617.5 L219.5,617.5 L222.1,617.6 L224.7,617.7 L227.3,617.7 L229.9,617.8 L232.5,617.8" fill="none" stroke="#1a9696" stroke-width="1.4" stroke-linejoin="round" stroke-linecap="round" />
<text x="15.5" y="325.7" font-size="21" font-family='"Liberation Sans", sans-serif' text-anchor="start" fill="#000" >(c)</text>
<text x="54.5" y="341.7" font-size="15.4" font-family='"Liberation Sans", sans-serif' text-anchor="start" fill="#000" >Calculated</text>
<text x="105.6" y="384.9" font-size="16.5" font-family='"Liberation Serif", serif'>ν</text>
<text x="117.0" y="384.9" font-size="15" font-family='"Liberation Sans", sans-serif' text-anchor="start" fill="#000" letter-spacing="-0.3">(C-N)</text>
<line x1="166" y1="431.7" x2="183" y2="431.7" stroke="#1a9696" stroke-width="1.8"/>
<text x="205.0" y="431.1" font-size="15.5" font-family='"Liberation Sans", sans-serif' text-anchor="start" fill="#000" >0°</text>
<line x1="166" y1="482.2" x2="183" y2="482.2" stroke="#b366ff" stroke-width="1.8"/>
<text x="205.0" y="481.6" font-size="15.5" font-family='"Liberation Sans", sans-serif' text-anchor="start" fill="#000" >60°</text>
<line x1="166" y1="532.1" x2="183" y2="532.1" stroke="#dc7822" stroke-width="1.8"/>
<text x="205.0" y="531.5" font-size="15.5" font-family='"Liberation Sans", sans-serif' text-anchor="start" fill="#000" >0°</text>
<text x="190.6" y="561.3" font-size="16.0" font-family='"Liberation Sans", sans-serif' text-anchor="start" fill="#000" >+1%</text>
<text x="50.3" y="641.0" font-size="14.0" font-family='"Liberation Sans", sans-serif' text-anchor="middle" fill="#000" >940</text>
<text x="102.3" y="641.0" font-size="14.0" font-family='"Liberation Sans", sans-serif' text-anchor="middle" fill="#000" >960</text>
<text x="154.3" y="641.0" font-size="14.0" font-family='"Liberation Sans", sans-serif' text-anchor="middle" fill="#000" >980</text>
<text x="206.3" y="641.0" font-size="14.0" font-family='"Liberation Sans", sans-serif' text-anchor="middle" fill="#000" >1000</text>
<text x="76.6" y="667.2" font-size="15" font-family='"Liberation Sans", sans-serif' text-anchor="start" fill="#000" letter-spacing="0.45">Raman shift (cm<tspan font-size="10" dy="-6">-1</tspan><tspan dy="6">)</tspan></text>
<text transform="translate(32.9,539.0) rotate(-90)" font-size="15" letter-spacing="0.41" font-family='"Liberation Sans", sans-serif'>Intensity (arb.units)</text>
<line x1="280.9" y1="316.3" x2="283.7" y2="316.3" stroke="#666" stroke-width="0.9"/>
<line x1="280.9" y1="350.7" x2="283.7" y2="350.7" stroke="#666" stroke-width="0.9"/>
<line x1="280.9" y1="385.1" x2="283.7" y2="385.1" stroke="#666" stroke-width="0.9"/>
<line x1="280.9" y1="419.4" x2="283.7" y2="419.4" stroke="#666" stroke-width="0.9"/>
<line x1="280.9" y1="453.8" x2="283.7" y2="453.8" stroke="#666" stroke-width="0.9"/>
<line x1="280.9" y1="488.2" x2="283.7" y2="488.2" stroke="#666" stroke-width="0.9"/>
<line x1="280.9" y1="522.6" x2="283.7" y2="522.6" stroke="#666" stroke-width="0.9"/>
<line x1="280.9" y1="557.0" x2="283.7" y2="557.0" stroke="#666" stroke-width="0.9"/>
<line x1="280.9" y1="591.3" x2="283.7" y2="591.3" stroke="#666" stroke-width="0.9"/>
<line x1="280.9" y1="625.7" x2="283.7" y2="625.7" stroke="#666" stroke-width="0.9"/>
<line x1="300.7" y1="625.3" x2="300.7" y2="627.9" stroke="#7c7c7c" stroke-width="0.9"/>
<line x1="326.1" y1="625.3" x2="326.1" y2="626.6999999999999" stroke="#7c7c7c" stroke-width="0.9"/>
<line x1="351.6" y1="625.3" x2="351.6" y2="627.9" stroke="#7c7c7c" stroke-width="0.9"/>
<line x1="377.0" y1="625.3" x2="377.0" y2="626.6999999999999" stroke="#7c7c7c" stroke-width="0.9"/>
<line x1="402.5" y1="625.3" x2="402.5" y2="627.9" stroke="#7c7c7c" stroke-width="0.9"/>
<line x1="427.9" y1="625.3" x2="427.9" y2="626.6999999999999" stroke="#7c7c7c" stroke-width="0.9"/>
<path d="M283.7,381.9 L289.7,381.3 L300.5,381.9 L307.2,381.0 L312.6,379.9 L317.9,381.9 L323.3,381.9 L329.3,380.9 L339.4,381.0 L346.1,380.2 L351.5,378.6 L356.9,376.2 L362.3,374.8 L367.7,372.0 L373.1,366.5 L379.1,358.4 L384.5,357.8 L389.9,365.2 L395.9,372.5 L401.3,376.2 L409.3,378.9 L417.4,381.3 L428.1,381.5 L436.2,383.3 L445.6,384.6 L453.4,383.7" fill="none" stroke="#a11c24" stroke-width="1.8" stroke-linejoin="round" stroke-linecap="round" />
<path d="M283.7,422.2 L296.4,421.6 L309.9,420.5 L327.3,421.8 L332.7,420.9 L339.4,418.6 L343.5,418.2 L348.8,420.5 L354.2,417.3 L359.6,417.1 L364.9,414.2 L370.4,410.8 L377.1,403.8 L383.8,403.8 L388.5,404.8 L394.6,409.5 L404.0,415.5 L412.0,420.0 L421.4,421.8 L430.8,421.3 L440.2,422.2 L448.3,424.0 L453.4,423.6" fill="none" stroke="#de2d2a" stroke-width="1.8" stroke-linejoin="round" stroke-linecap="round" />
<path d="M283.7,448.5 L288.4,448.9 L293.7,447.8 L304.5,449.2 L312.6,448.2 L322.0,447.6 L326.0,448.1 L332.0,449.6 L338.1,447.8 L343.5,445.8 L348.8,445.6 L354.2,445.8 L359.6,443.1 L366.3,439.1 L371.0,437.1 L377.1,431.4 L383.8,429.7 L387.8,428.8 L393.2,433.7 L399.3,439.1 L408.0,443.5 L416.0,447.2 L426.8,448.9 L437.5,447.8 L445.6,450.3 L449.6,451.2 L453.4,450.3" fill="none" stroke="#f26b4f" stroke-width="1.8" stroke-linejoin="round" stroke-linecap="round" />
<path d="M283.7,477.8 L293.7,478.1 L303.2,477.1 L316.6,478.5 L326.0,476.7 L332.7,478.1 L338.1,477.4 L343.5,475.8 L348.8,477.1 L354.9,473.6 L360.2,474.4 L366.3,469.1 L371.0,466.6 L377.1,460.2 L383.8,457.0 L387.8,456.6 L393.2,460.6 L399.3,467.3 L405.3,472.7 L412.0,475.4 L420.1,476.3 L426.8,478.1 L432.2,479.4 L438.2,477.8 L445.6,479.4 L453.4,480.1" fill="none" stroke="#f6a688" stroke-width="1.8" stroke-linejoin="round" stroke-linecap="round" />
<path d="M283.7,505.3 L296.4,506.3 L309.9,505.6 L326.0,506.3 L338.1,504.9 L343.5,505.3 L350.2,503.6 L358.2,502.2 L366.3,498.2 L371.0,494.2 L377.1,487.1 L382.5,481.2 L386.5,483.0 L393.2,489.5 L399.9,496.2 L408.0,502.2 L416.0,505.6 L426.8,505.3 L436.2,506.9 L445.6,507.2 L453.4,507.2" fill="none" stroke="#e9d9d4" stroke-width="1.8" stroke-linejoin="round" stroke-linecap="round" />
<path d="M283.7,531.9 L292.4,532.8 L303.2,532.5 L309.9,530.8 L314.6,530.3 L320.6,531.2 L326.0,530.3 L331.4,532.5 L336.7,530.8 L342.1,529.2 L348.2,532.5 L352.9,529.6 L358.2,527.8 L364.9,525.2 L370.4,521.1 L375.7,513.7 L381.8,508.8 L387.2,510.4 L393.2,517.8 L399.9,525.2 L406.6,528.5 L412.0,529.9 L420.1,532.5 L428.1,532.8 L436.2,532.5 L445.6,533.5 L453.4,533.5" fill="none" stroke="#b7d4ec" stroke-width="1.8" stroke-linejoin="round" stroke-linecap="round" />
<path d="M283.7,555.8 L293.7,556.0 L303.2,556.5 L309.9,555.4 L320.6,556.0 L331.4,555.1 L338.1,556.3 L343.5,555.8 L348.8,553.6 L354.2,554.0 L359.6,552.7 L366.3,548.3 L370.4,546.0 L375.7,539.9 L382.5,531.9 L387.8,532.5 L393.2,538.6 L399.9,546.6 L408.0,553.4 L416.0,555.8 L425.5,556.7 L434.9,558.1 L445.6,558.1 L453.4,559.1" fill="none" stroke="#6aa9d8" stroke-width="1.8" stroke-linejoin="round" stroke-linecap="round" />
<path d="M283.7,577.5 L292.4,578.9 L299.1,578.2 L309.9,578.9 L315.9,576.9 L320.6,576.9 L327.3,577.9 L332.7,576.6 L338.1,577.5 L343.5,575.5 L348.8,576.5 L354.9,576.9 L360.9,573.5 L365.0,570.8 L370.4,567.1 L377.1,558.1 L383.1,554.7 L387.8,555.8 L393.2,562.1 L399.9,570.8 L406.6,574.6 L416.0,576.9 L426.8,579.6 L433.5,578.2 L440.2,578.9 L448.3,580.6 L453.4,580.6" fill="none" stroke="#3c86c3" stroke-width="1.8" stroke-linejoin="round" stroke-linecap="round" />
<path d="M283.7,603.9 L298.1,603.1 L308.1,603.9 L315.6,602.1 L335.7,603.1 L343.3,601.4 L349.5,602.1 L355.8,600.6 L360.8,601.4 L370.9,593.9 L377.1,583.8 L382.7,579.0 L387.7,579.5 L394.7,590.1 L404.8,600.6 L411.0,602.6 L421.1,603.9 L433.6,605.1 L453.4,607.2" fill="none" stroke="#1f5ca6" stroke-width="1.8" stroke-linejoin="round" stroke-linecap="round" />
<line x1="384.8" y1="349.0" x2="384.8" y2="586.0" stroke="#2a2a2a" stroke-width="1.4" stroke-dasharray="8.3 2 1.3 2"/>
<path d="M283.7,316.5 H453.4 V625.3 H283.7" fill="none" stroke="#828282" stroke-width="1"/>
<line x1="283.7" y1="316.5" x2="283.7" y2="625.3" stroke="#bdbdbd" stroke-width="1.8"/>
<text x="421.1" y="372.8" font-size="15" font-family='"Liberation Sans", sans-serif' text-anchor="start" fill="#000" >21 h</text>
<text x="421.1" y="410.8" font-size="15" font-family='"Liberation Sans", sans-serif' text-anchor="start" fill="#000" >12 h</text>
<text x="421.4" y="441.2" font-size="15" font-family='"Liberation Sans", sans-serif' text-anchor="start" fill="#000" >10 h</text>
<text x="424.5" y="471.5" font-size="15" font-family='"Liberation Sans", sans-serif' text-anchor="start" fill="#000" >8 h</text>
<text x="424.5" y="498.3" font-size="15" font-family='"Liberation Sans", sans-serif' text-anchor="start" fill="#000" >6 h</text>
<text x="424.5" y="523.6" font-size="15" font-family='"Liberation Sans", sans-serif' text-anchor="start" fill="#000" >5 h</text>
<text x="424.5" y="548.5" font-size="15" font-family='"Liberation Sans", sans-serif' text-anchor="start" fill="#000" >4 h</text>
<text x="424.5" y="572.7" font-size="15" font-family='"Liberation Sans", sans-serif' text-anchor="start" fill="#000" >2 h</text>
<text x="424.0" y="599.8" font-size="15" font-family='"Liberation Sans", sans-serif' text-anchor="start" fill="#000" >0 h</text>
<text x="293.4" y="341.2" font-size="14.5" font-family='"Liberation Sans", sans-serif' text-anchor="start" fill="#000" >T=293 K</text>
<text x="365.7" y="340.7" font-size="16.5" font-family='"Liberation Serif", serif'>ν</text>
<text x="377.3" y="340.7" font-size="15" font-family='"Liberation Sans", sans-serif' text-anchor="start" fill="#000" letter-spacing="-0.7">(C-N)</text>
<text x="300.7" y="644.5" font-size="13.6" font-family='"Liberation Sans", sans-serif' text-anchor="middle" fill="#000" >945</text>
<text x="351.6" y="644.5" font-size="13.6" font-family='"Liberation Sans", sans-serif' text-anchor="middle" fill="#000" >960</text>
<text x="402.5" y="644.5" font-size="13.6" font-family='"Liberation Sans", sans-serif' text-anchor="middle" fill="#000" >975</text>
<text x="453.4" y="644.5" font-size="13.6" font-family='"Liberation Sans", sans-serif' text-anchor="middle" fill="#000" >990</text>
<text x="249.9" y="325.4" font-size="21" font-family='"Liberation Sans", sans-serif' text-anchor="start" fill="#000" >(d)</text>
<text x="306.9" y="666.8" font-size="15" font-family='"Liberation Sans", sans-serif' text-anchor="start" fill="#000" letter-spacing="0.15">Raman shift (cm<tspan font-size="10" dy="-6">-1</tspan><tspan dy="6">)</tspan></text>
<text transform="translate(270.7,539.4) rotate(-90)" font-size="15" letter-spacing="0.25" font-family='"Liberation Sans", sans-serif'>Intensity (arb. units)</text>
<line x1="502.4" y1="316.3" x2="505.2" y2="316.3" stroke="#666" stroke-width="0.9"/>
<line x1="502.4" y1="350.7" x2="505.2" y2="350.7" stroke="#666" stroke-width="0.9"/>
<line x1="502.4" y1="385.1" x2="505.2" y2="385.1" stroke="#666" stroke-width="0.9"/>
<line x1="502.4" y1="419.4" x2="505.2" y2="419.4" stroke="#666" stroke-width="0.9"/>
<line x1="502.4" y1="453.8" x2="505.2" y2="453.8" stroke="#666" stroke-width="0.9"/>
<line x1="502.4" y1="488.2" x2="505.2" y2="488.2" stroke="#666" stroke-width="0.9"/>
<line x1="502.4" y1="522.6" x2="505.2" y2="522.6" stroke="#666" stroke-width="0.9"/>
<line x1="502.4" y1="557.0" x2="505.2" y2="557.0" stroke="#666" stroke-width="0.9"/>
<line x1="502.4" y1="591.3" x2="505.2" y2="591.3" stroke="#666" stroke-width="0.9"/>
<line x1="502.4" y1="625.7" x2="505.2" y2="625.7" stroke="#666" stroke-width="0.9"/>
<line x1="522.1" y1="625.5" x2="522.1" y2="628.1" stroke="#7c7c7c" stroke-width="0.9"/>
<line x1="547.5" y1="625.5" x2="547.5" y2="626.9" stroke="#7c7c7c" stroke-width="0.9"/>
<line x1="572.8" y1="625.5" x2="572.8" y2="628.1" stroke="#7c7c7c" stroke-width="0.9"/>
<line x1="598.1" y1="625.5" x2="598.1" y2="626.9" stroke="#7c7c7c" stroke-width="0.9"/>
<line x1="623.5" y1="625.5" x2="623.5" y2="628.1" stroke="#7c7c7c" stroke-width="0.9"/>
<line x1="648.9" y1="625.5" x2="648.9" y2="626.9" stroke="#7c7c7c" stroke-width="0.9"/>
<path d="M505.3,410.1 L513.3,408.7 L521.9,410.5 L533.9,409.2 L545.1,410.5 L556.2,407.9 L561.4,407.9 L567.4,409.2 L572.5,408.7 L581.0,404.3 L589.1,399.7 L595.9,392.7 L601.3,385.4 L605.9,380.5 L607.5,380.7 L614.3,391.5 L623.9,402.2 L633.4,408.2 L645.4,409.4 L657.3,409.4 L674.2,412.5" fill="none" stroke="#a11c24" stroke-width="1.8" stroke-linejoin="round" stroke-linecap="round" />
<path d="M505.3,447.9 L514.2,449.1 L520.2,447.9 L530.5,447.4 L537.3,446.5 L542.5,447.4 L548.5,446.5 L556.2,447.0 L564.8,445.3 L570.8,446.2 L578.3,443.4 L586.4,439.4 L593.2,435.3 L599.9,427.2 L604.8,423.7 L609.1,422.1 L614.3,429.7 L623.9,439.3 L635.8,445.2 L652.5,447.6 L674.2,450.0" fill="none" stroke="#e3342c" stroke-width="1.8" stroke-linejoin="round" stroke-linecap="round" />
<path d="M505.3,478.8 L520.2,479.1 L530.5,478.8 L542.5,480.0 L553.6,479.6 L558.8,477.7 L571.7,476.5 L575.0,475.8 L581.7,473.6 L586.9,474.0 L591.4,469.1 L598.1,460.9 L604.1,456.1 L608.6,454.9 L613.8,460.9 L620.5,468.4 L626.5,471.6 L634.7,475.1 L645.0,479.1 L654.9,479.9 L674.2,482.2" fill="none" stroke="#f4714f" stroke-width="1.8" stroke-linejoin="round" stroke-linecap="round" />
<path d="M505.3,503.2 L513.3,503.7 L530.5,502.3 L547.6,502.8 L561.4,504.4 L571.7,502.8 L575.0,503.4 L581.0,501.2 L586.9,499.0 L593.7,493.7 L598.9,484.8 L604.1,477.3 L608.6,477.0 L613.8,482.5 L619.8,490.7 L626.5,497.5 L634.7,499.7 L645.0,501.9 L654.9,502.5 L674.2,506.1" fill="none" stroke="#f9bba2" stroke-width="1.8" stroke-linejoin="round" stroke-linecap="round" />
<path d="M505.3,530.6 L521.4,533.5 L538.5,532.8 L551.2,533.9 L566.8,531.3 L575.3,532.0 L586.9,528.8 L593.7,523.6 L598.9,516.1 L604.1,508.4 L608.6,506.9 L613.8,513.1 L619.8,520.6 L626.5,526.6 L634.7,529.6 L645.0,532.5 L652.6,534.1 L674.2,535.8" fill="none" stroke="#d3e5f4" stroke-width="1.8" stroke-linejoin="round" stroke-linecap="round" />
<path d="M505.3,555.2 L514.3,556.9 L525.7,555.7 L547.0,554.5 L559.0,556.2 L565.4,554.3 L576.8,552.9 L583.0,552.9 L587.0,550.5 L592.7,544.1 L595.1,540.0 L598.4,535.6 L604.1,530.3 L608.6,529.3 L613.8,534.0 L619.0,540.0 L623.4,546.4 L629.6,549.8 L632.7,551.6 L640.9,554.3 L649.0,557.4 L658.4,557.1 L674.2,558.3" fill="none" stroke="#8ebfe2" stroke-width="1.8" stroke-linejoin="round" stroke-linecap="round" />
<path d="M505.3,574.2 L514.3,576.0 L525.0,575.3 L531.4,576.5 L542.7,575.0 L548.4,575.7 L559.0,573.6 L564.7,575.7 L569.7,575.0 L575.7,571.8 L581.3,573.2 L587.0,569.6 L592.7,566.1 L598.0,557.0 L603.4,547.6 L608.6,544.9 L615.2,551.6 L620.4,561.0 L625.7,569.1 L633.9,572.6 L642.0,576.5 L652.6,576.7 L664.2,577.9 L674.2,576.5" fill="none" stroke="#3f8ac6" stroke-width="1.8" stroke-linejoin="round" stroke-linecap="round" />
<path d="M505.3,603.7 L521.4,605.1 L525.7,605.1 L532.8,603.7 L537.0,604.0 L542.7,605.8 L548.4,604.8 L559.0,601.6 L565.4,603.4 L569.7,603.4 L576.4,601.1 L581.3,601.1 L587.0,599.7 L592.7,594.5 L598.0,586.0 L603.3,576.0 L609.0,573.2 L615.4,581.0 L621.0,591.6 L629.6,599.4 L640.9,603.8 L653.4,604.6 L659.4,606.0 L664.6,605.7 L670.6,607.3 L674.2,607.0" fill="none" stroke="#1f5ca6" stroke-width="1.8" stroke-linejoin="round" stroke-linecap="round" />
<line x1="608.6" y1="353.8" x2="608.6" y2="590.0" stroke="#2a2a2a" stroke-width="1.4" stroke-dasharray="8.3 2 1.3 2"/>
<path d="M505.2,316.5 H674.2 V625.5 H505.2" fill="none" stroke="#828282" stroke-width="1"/>
<line x1="505.2" y1="316.5" x2="505.2" y2="625.5" stroke="#a6a6a6" stroke-width="1.4"/>
<text x="641.8" y="400.8" font-size="15" font-family='"Liberation Sans", sans-serif' text-anchor="start" fill="#000" >21 h</text>
<text x="641.8" y="438.6" font-size="15" font-family='"Liberation Sans", sans-serif' text-anchor="start" fill="#000" >12 h</text>
<text x="641.8" y="467.7" font-size="15" font-family='"Liberation Sans", sans-serif' text-anchor="start" fill="#000" >10 h</text>
<text x="645.8" y="498.9" font-size="15" font-family='"Liberation Sans", sans-serif' text-anchor="start" fill="#000" >8 h</text>
<text x="645.8" y="525.9" font-size="15" font-family='"Liberation Sans", sans-serif' text-anchor="start" fill="#000" >6 h</text>
<text x="645.8" y="548.6" font-size="15" font-family='"Liberation Sans", sans-serif' text-anchor="start" fill="#000" >4 h</text>
<text x="645.8" y="572.3" font-size="15" font-family='"Liberation Sans", sans-serif' text-anchor="start" fill="#000" >2 h</text>
<text x="645.8" y="599.7" font-size="15" font-family='"Liberation Sans", sans-serif' text-anchor="start" fill="#000" >0 h</text>
<text x="514.6" y="340.8" font-size="14.5" font-family='"Liberation Sans", sans-serif' text-anchor="start" fill="#000" >T=100 K</text>
<text x="584.8" y="340.3" font-size="16.5" font-family='"Liberation Serif", serif'>ν</text>
<text x="596.4" y="340.3" font-size="15" font-family='"Liberation Sans", sans-serif' text-anchor="start" fill="#000" letter-spacing="-0.7">(C-N)</text>
<text x="522.1" y="644.5" font-size="13.6" font-family='"Liberation Sans", sans-serif' text-anchor="middle" fill="#000" >945</text>
<text x="572.8" y="644.5" font-size="13.6" font-family='"Liberation Sans", sans-serif' text-anchor="middle" fill="#000" >960</text>
<text x="623.5" y="644.5" font-size="13.6" font-family='"Liberation Sans", sans-serif' text-anchor="middle" fill="#000" >975</text>
<text x="674.2" y="644.5" font-size="13.6" font-family='"Liberation Sans", sans-serif' text-anchor="middle" fill="#000" >990</text>
<text x="472.0" y="325.4" font-size="21" font-family='"Liberation Sans", sans-serif' text-anchor="start" fill="#000" >(e)</text>
<text x="527.4" y="666.8" font-size="15" font-family='"Liberation Sans", sans-serif' text-anchor="start" fill="#000" letter-spacing="0.15">Raman shift (cm<tspan font-size="10" dy="-6">-1</tspan><tspan dy="6">)</tspan></text>
<text transform="translate(491.8,539.4) rotate(-90)" font-size="15" letter-spacing="0.25" font-family='"Liberation Sans", sans-serif'>Intensity (arb. units)</text>
</svg>
</body></html>
